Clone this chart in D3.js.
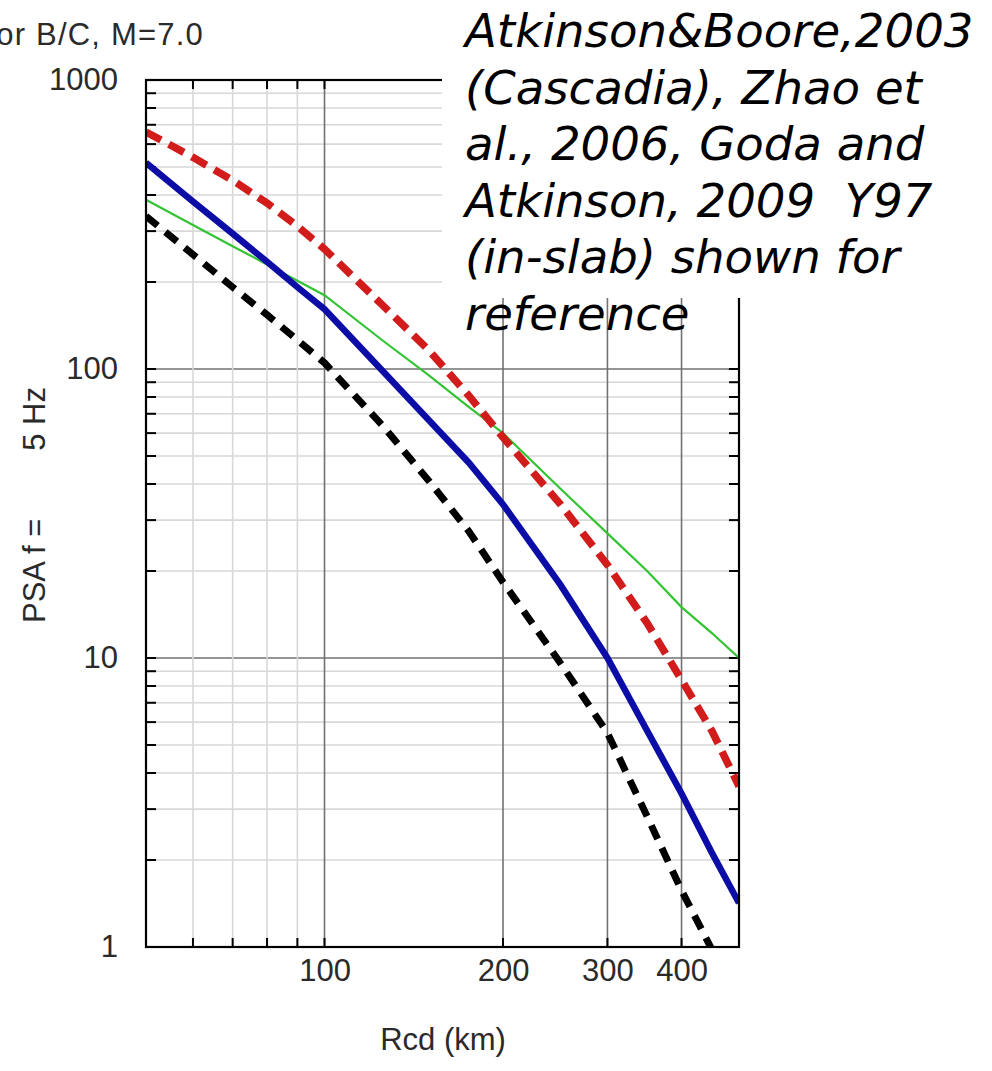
<!DOCTYPE html>
<html>
<head>
<meta charset="utf-8">
<script src="https://cdn.jsdelivr.net/npm/d3@7"></script>
<style>
  html,body{margin:0;padding:0;background:#fff;}
  svg{display:block;}
  .tick-label{font-family:"Liberation Sans",Arial,sans-serif;font-size:31px;fill:#2a2a2a;}
  .note{font-family:"DejaVu Sans",sans-serif;font-style:italic;font-size:46.6px;fill:#000;white-space:pre;}
</style>
</head>
<body>
<script>
// ── data ──
const distances=[50,60,70,80,90,100,125,150,175,200,250,300,350,400,450,500];
const psaRed  =[661,540,450,375,312,260,167,116,81,58,34,21,13.2,8.4,5.6,3.6];
const psaBlue =[517,380,294,235,192,161,99,66.5,47.5,34,17.9,10,5.6,3.4,2.12,1.42];
const psaGreen=[385,315,266,230,202,180,126,95,74,60,38.5,27,20,15,12.2,10];
const psaBlack=[338,249,192,154,126,105,64,41,27.5,18.3,9.6,5.5,2.83,1.57,0.98];
const xMinorTicks=[60,70,80,90];
const xMajorTicks=[100,200,300,400];
const yLabels=[1,10,100,1000];
const noteLines=['Atkinson&Boore,2003','(Cascadia), Zhao et','al., 2006, Goda and','Atkinson, 2009  Y97','(in-slab) shown for','reference'];

const W=992,H=1071;
const L=146,R=739,T=80,B=947;

const svg=d3.select('body').append('svg').attr('width',W).attr('height',H);
svg.append('rect').attr('width',W).attr('height',H).attr('fill','#fff');

const x=d3.scaleLog().domain([50,500]).range([L,R]);
const y=d3.scaleLog().domain([1,1000]).range([B,T]);

const grid=svg.append('g');
const yTicks=y.ticks();
const isDecade=v=>Math.abs(Math.log10(v)-Math.round(Math.log10(v)))<1e-9;

// horizontal grid
grid.selectAll('line.h').data(yTicks).join('line')
  .attr('x1',L).attr('x2',R).attr('y1',d=>y(d)).attr('y2',d=>y(d))
  .attr('stroke',d=>isDecade(d)?'#727272':'#d8d8d8').attr('stroke-width',1.6);
// vertical grid
grid.selectAll('line.vm').data(xMinorTicks).join('line')
  .attr('y1',T).attr('y2',B).attr('x1',d=>x(d)).attr('x2',d=>x(d))
  .attr('stroke','#d8d8d8').attr('stroke-width',1.6);
grid.selectAll('line.vM').data(xMajorTicks).join('line')
  .attr('y1',T).attr('y2',B).attr('x1',d=>x(d)).attr('x2',d=>x(d))
  .attr('stroke','#727272').attr('stroke-width',1.6);

// inward ticks
const tk=svg.append('g').attr('stroke','#000').attr('stroke-width',2);
yTicks.filter(d=>d>1&&d<1000).forEach(d=>{
  tk.append('line').attr('x1',L).attr('x2',L+10).attr('y1',y(d)).attr('y2',y(d));
  tk.append('line').attr('x1',R-10).attr('x2',R).attr('y1',y(d)).attr('y2',y(d));
});
xMinorTicks.concat(xMajorTicks).forEach(d=>{
  tk.append('line').attr('x1',x(d)).attr('x2',x(d)).attr('y1',B).attr('y2',B-9);
  tk.append('line').attr('x1',x(d)).attr('x2',x(d)).attr('y1',T).attr('y2',T+9);
});

// curves
svg.append('clipPath').attr('id','plot').append('rect')
  .attr('x',L).attr('y',T).attr('width',R-L).attr('height',B-T);
const line=d3.line().x(d=>x(d[0])).y(d=>y(d[1]));
const curves=[
  {vals:psaGreen,color:'#33c433',width:2.2,dash:null},
  {vals:psaBlack,color:'#000',width:7,dash:'15,10'},
  {vals:psaBlue,color:'#0c0ca6',width:6.5,dash:null},
  {vals:psaRed,color:'#d21c1c',width:7.5,dash:'17,9'}
];
const cg=svg.append('g').attr('clip-path','url(#plot)');
curves.forEach(c=>{
  cg.append('path').datum(c.vals.map((v,i)=>[distances[i],v]))
    .attr('d',line).attr('fill','none').attr('stroke',c.color)
    .attr('stroke-width',c.width).attr('stroke-dasharray',c.dash);
});

// frame
svg.append('rect').attr('x',L).attr('y',T).attr('width',R-L).attr('height',B-T)
  .attr('fill','none').attr('stroke','#000').attr('stroke-width',2.2);

// axis labels
svg.append('g').attr('transform',`translate(0,${B})`)
  .call(d3.axisBottom(x).tickValues(xMajorTicks).tickFormat(d3.format('d')).tickSize(0).tickPadding(12))
  .call(g=>g.select('.domain').remove())
  .selectAll('text').attr('class','tick-label').attr('font-size',null).attr('font-family',null).attr('fill',null);
svg.append('g').attr('transform',`translate(${L},0)`)
  .call(d3.axisLeft(y).tickValues(yLabels).tickFormat(d3.format('d')).tickSize(0).tickPadding(28))
  .call(g=>g.select('.domain').remove())
  .selectAll('text').attr('class','tick-label').attr('font-size',null).attr('font-family',null).attr('fill',null);

svg.append('text').attr('class','tick-label').attr('x',443).attr('y',1050)
  .attr('text-anchor','middle').text('Rcd (km)');
svg.append('text').attr('class','tick-label')
  .attr('transform','translate(45,623) rotate(-90)').text('PSA f =');
svg.append('text').attr('class','tick-label').attr('text-anchor','end')
  .attr('transform','translate(45,387) rotate(-90)').text('5 Hz');
svg.append('text').attr('class','tick-label').attr('x',204).attr('y',45)
  .attr('text-anchor','end').style('letter-spacing','1.2px').text('PSA for B/C, M=7.0');

// note block over the upper-right corner
svg.append('rect').attr('x',442).attr('y',0).attr('width',W-442).attr('height',298).attr('fill','#fff');
svg.append('text').attr('class','note').selectAll('tspan').data(noteLines).join('tspan')
  .attr('x',465).attr('y',(d,i)=>47+i*56.6).text(d=>d);
</script>
</body>
</html>
